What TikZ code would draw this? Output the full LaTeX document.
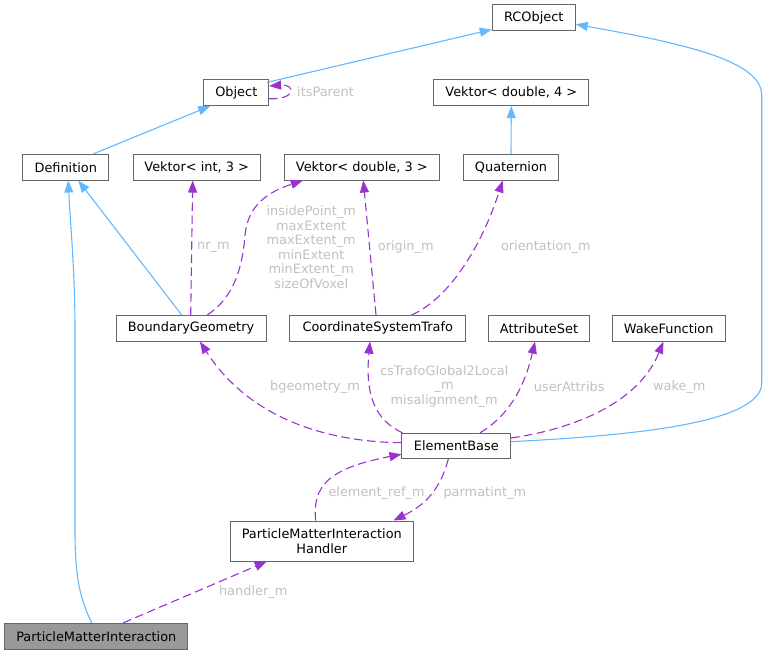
\documentclass[tikz,border=0pt]{standalone}
\usepackage{fontspec}
\setmainfont{DejaVu Sans}
\usetikzlibrary{arrows.meta}
\definecolor{nodeborder}{HTML}{666666}
\definecolor{selfill}{HTML}{999999}
\definecolor{inhblue}{HTML}{63B8FF}
\definecolor{usepurple}{HTML}{9A32CD}
\definecolor{lblgray}{HTML}{C0C0C0}
\tikzset{
  cls/.style={draw=nodeborder, line width=1pt, fill=white, inner sep=0pt,
    minimum height=25.7pt, font=\fontsize{12.9}{14.5}\selectfont, text=black, align=center},
  inh/.style={draw=inhblue, line width=1.1pt, -{Triangle[length=12pt,width=9pt]}},
  use/.style={draw=usepurple, line width=1.1pt, dash pattern=on 8.5pt off 4.5pt,
    -{Triangle[length=12pt,width=9pt]}},
  lbl/.style={text=lblgray, font=\fontsize{12.9}{14.5}\selectfont, inner sep=0pt, align=center},
}
\begin{document}
\begin{tikzpicture}[x=1pt,y=-1pt]
\useasboundingbox (0,0) rectangle (767,655);
% nodes
\node[cls, minimum width=83pt] (RC) at (533.8,17.8) {RCObject};
\node[cls, minimum width=64.7pt] (Obj) at (236.3,92.7) {Object};
\node[cls, minimum width=154.7pt] (V4) at (511.3,92.7) {Vektor< double, 4 >};
\node[cls, minimum width=86.3pt] (Def) at (65.8,167.2) {Definition};
\node[cls, minimum width=126.7pt] (VI3) at (196.7,167.2) {Vektor< int, 3 >};
\node[cls, minimum width=155pt] (VD3) at (361.8,167.2) {Vektor< double, 3 >};
\node[cls, minimum width=95.3pt] (Q) at (511,167.2) {Quaternion};
\node[cls, minimum width=150pt] (BG) at (191,328.3) {BoundaryGeometry};
\node[cls, minimum width=175.7pt] (CST) at (377.8,328.3) {CoordinateSystemTrafo};
\node[cls, minimum width=100.7pt] (AS) at (539,328.3) {AttributeSet};
\node[cls, minimum width=112.7pt] (WF) at (668.7,328.3) {WakeFunction};
\node[cls, minimum width=108.7pt, minimum height=25.4pt] (EB) at (456.3,446) {ElementBase};
\node[cls, minimum width=183pt, minimum height=40pt] (PMIH) at (321.8,541) {ParticleMatterInteraction\\Handler};
\node[cls, minimum width=183.3pt, minimum height=26pt, fill=selfill] (PMI) at (96.3,636.3) {ParticleMatterInteraction};

% inheritance edges
\draw[inh] ([xshift=-2pt,yshift=-3pt]Obj.north east) -- ([yshift=1.7pt]RC.south west);
\draw[inh] ([xshift=27.5pt]Def.north) -- ([xshift=6.7pt]Obj.south west);
\draw[inh] (Q.north) -- (V4.south);
\draw[inh] ([yshift=4.3pt]EB.east) .. controls (620,436) and (761.7,425) .. (761.7,383)
  -- (761.7,95) .. controls (761.7,60) and (680,43) .. ([yshift=-6.5pt]RC.east);
\draw[inh] ([xshift=-4.6pt]PMI.north) .. controls (78,595) and (75,570) .. (75,530)
  -- (75,330) .. controls (75,270) and (70,220) .. ([xshift=2.5pt]Def.south);
\draw[inh] ([xshift=-9.3pt]BG.north) -- ([xshift=12.5pt]Def.south);

% usage edges
\draw[use] ([yshift=-6pt]Obj.east) .. controls (296,100) and (296,84) .. ([yshift=6.7pt]Obj.east);
\node[lbl, anchor=west] (lItsParent) at (297,92) {itsParent};

\draw[use] ([xshift=-0.3pt]BG.north) -- ([xshift=-4pt]VI3.south);
\node[lbl, anchor=west] (lNr) at (197,247.3) {nr\_m};

\draw[use] ([xshift=16.3pt]BG.north) .. controls (230,300) and (242,275) .. (245,235)
  .. controls (248,205) and (268,192) .. ([xshift=19pt]VD3.south west);
\node[lbl] (lBG) at (311.2,247) {insidePoint\_m\\maxExtent\\maxExtent\_m\\minExtent\\minExtent\_m\\sizeOfVoxel};

\draw[use] ([xshift=-1.8pt]CST.north) -- ([xshift=1.5pt]VD3.south);
\node[lbl, anchor=west] (lOrigin) at (377.7,246.7) {origin\_m};

\draw[use] ([xshift=33.9pt]CST.north) .. controls (450,298) and (482,245) .. ([xshift=-8.3pt]Q.south);
\node[lbl] (lOrient) at (545.8,246.7) {orientation\_m};

\draw[use] ([yshift=3.3pt]EB.west) .. controls (330,442) and (250,420) .. ([xshift=9pt]BG.south);
\node[lbl] (lBgeo) at (315,386.7) {bgeometry\_m};

\draw[use] ([xshift=1pt]EB.north west) .. controls (375,420) and (365,395) .. ([xshift=-7.8pt]CST.south);
\node[lbl] (lCst) at (444.2,386.2) {csTrafoGlobal2Local\\\_m\\misalignment\_m};

\draw[use] ([xshift=23.7pt]EB.north) .. controls (510,415) and (525,385) .. ([xshift=-4pt]AS.south);
\node[lbl] (lUser) at (569.2,386.7) {userAttribs};

\draw[use] ([yshift=8pt]EB.east) .. controls (580,428) and (640,400) .. ([xshift=-5.4pt]WF.south);
\node[lbl] (lWake) at (679.3,386.7) {wake\_m};

\draw[use] ([xshift=-6.1pt]PMIH.north) .. controls (312,485) and (330,468) .. ([yshift=-8.3pt]EB.west);
\node[lbl] (lElem) at (376.6,493.2) {element\_ref\_m};

\draw[use] ([xshift=-8pt]EB.south) .. controls (440,490) and (425,505) .. ([xshift=-20.3pt]PMIH.north east);
\node[lbl] (lParm) at (484.8,493.2) {parmatint\_m};

\draw[use] ([xshift=27pt]PMI.north) -- ([xshift=-55.1pt]PMIH.south);
\node[lbl] (lHandler) at (253.2,591.7) {handler\_m};
\end{tikzpicture}
\end{document}
